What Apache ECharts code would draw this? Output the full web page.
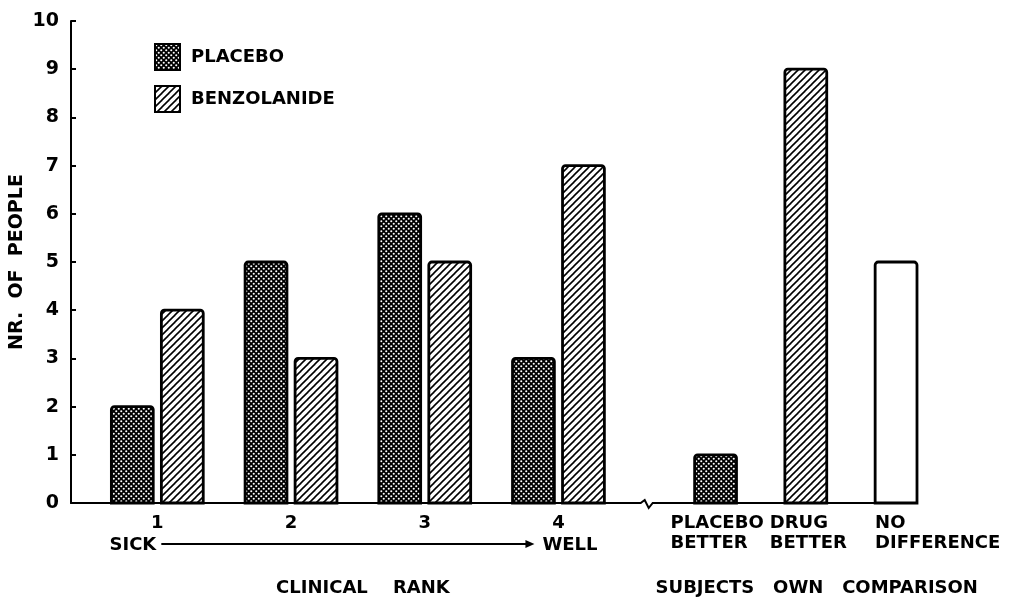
<!DOCTYPE html>
<html>
<head>
<meta charset="utf-8">
<script src="https://cdn.jsdelivr.net/npm/echarts@6/dist/echarts.min.js"></script>
<style>
  html, body { margin: 0; padding: 0; background: #fff; }
  #chart { width: 1012px; height: 600px; }
</style>
</head>
<body>
<div id="chart"></div>
<script>
// ---------------- DATA ----------------
const clinicalRanks = ['1', '2', '3', '4'];
const placeboCounts = [2, 5, 6, 3];
const benzolanideCounts = [4, 3, 5, 7];
const comparisonLabels = [['PLACEBO', 'BETTER'], ['DRUG', 'BETTER'], ['NO', 'DIFFERENCE']];
const comparisonCounts = [1, 9, 5];
const comparisonKinds = ['PLACEBO', 'BENZOLANIDE', 'NO DIFFERENCE'];
const seriesNames = ['PLACEBO', 'BENZOLANIDE'];
const yTickValues = [0, 1, 2, 3, 4, 5, 6, 7, 8, 9, 10];

// ---------------- LAYOUT (x units: one clinical group step = 1) ----------------
const BAR_W = 0.313;          // bar width in x units
const BAR_OFF = 0.187;        // offset of each bar from group centre
const COMP_START = 5.175;     // centre of first comparison bar
const COMP_STEP = 0.675;
const BREAK_X = 4.66;
const X_MIN = 0.3545;
const X_MAX = COMP_START + 2 * COMP_STEP + BAR_W / 2;
const compLabelOffsets = [-45, -36, -21]; // px, left edge of comparison labels from bar centre
const FONT = '"DejaVu Sans", sans-serif';

const rankX = i => i + 1;
const compX = j => COMP_START + j * COMP_STEP;

// ---------------- PATTERNS ----------------
function dotPattern() {
  const c = document.createElement('canvas');
  c.width = 5; c.height = 5;
  const g = c.getContext('2d');
  g.fillStyle = '#000'; g.fillRect(0, 0, 5, 5);
  g.fillStyle = '#fff';
  [[1.25, 1.25], [3.75, 3.75]].forEach(([x, y]) => { g.beginPath(); g.arc(x, y, 1.05, 0, Math.PI * 2); g.fill(); });
  return c;
}
function hatchPattern() {
  const s = 7;
  const c = document.createElement('canvas');
  c.width = s; c.height = s;
  const g = c.getContext('2d');
  g.fillStyle = '#fff'; g.fillRect(0, 0, s, s);
  g.strokeStyle = '#000'; g.lineWidth = 1.6;
  [[0, s, s, 0], [-s / 2, s / 2, s / 2, -s / 2], [s / 2, s * 1.5, s * 1.5, s / 2]].forEach(([a, b, c2, d]) => { g.beginPath(); g.moveTo(a, b); g.lineTo(c2, d); g.stroke(); });
  return c;
}
const fills = {
  'PLACEBO': { type: 'pattern', image: dotPattern(), repeat: 'repeat' },
  'BENZOLANIDE': { type: 'pattern', image: hatchPattern(), repeat: 'repeat' },
  'NO DIFFERENCE': '#fff'
};

// ---------------- SERIES DATA ----------------
const placeboData = placeboCounts.map((v, i) => [rankX(i) - BAR_OFF, v]);
const benzData = benzolanideCounts.map((v, i) => [rankX(i) + BAR_OFF, v]);
const noDiffData = [];
comparisonCounts.forEach((v, j) => {
  const pt = [compX(j), v];
  if (comparisonKinds[j] === 'PLACEBO') placeboData.push(pt);
  else if (comparisonKinds[j] === 'BENZOLANIDE') benzData.push(pt);
  else noDiffData.push(pt);
});

function barRenderer(fill) {
  return function (params, api) {
    const top = api.coord([api.value(0), api.value(1)]);
    const base = api.coord([api.value(0), 0]);
    const w = api.size([BAR_W, 0])[0];
    return {
      type: 'rect',
      shape: { x: top[0] - w / 2, y: top[1], width: w, height: base[1] - top[1], r: [3, 3, 0, 0] },
      style: { fill: fill, stroke: '#000', lineWidth: 2.8 }
    };
  };
}

function barSeries(name, data) {
  return {
    name: name, type: 'custom', data: data, z: 3,
    itemStyle: { color: fills[name], borderColor: '#000', borderWidth: 2 },
    renderItem: barRenderer(fills[name])
  };
}

function txt(text, x, y, align, size) {
  return { type: 'text', style: { text: text, x: x, y: y, align: align || 'center', verticalAlign: 'middle', font: 'bold ' + (size || 18) + 'px ' + FONT, fill: '#000' } };
}

function annotationRenderer(params, api) {
  const children = [];
  const y0 = api.coord([X_MIN, 0])[1];
  const cx = clinicalRanks.map((r, i) => api.coord([rankX(i), 0])[0]);
  clinicalRanks.forEach((r, i) => children.push(txt(r, cx[i], y0 + 20)));
  const ay = y0 + 41;
  children.push(txt('SICK', cx[0] - 1, y0 + 42, 'right'));
  children.push(txt('WELL', cx[3] - 16, y0 + 42, 'left'));
  children.push({ type: 'line', shape: { x1: cx[0] + 4, y1: ay, x2: cx[3] - 28, y2: ay }, style: { stroke: '#000', lineWidth: 2 } });
  children.push({ type: 'polygon', shape: { points: [[cx[3] - 33, ay - 4], [cx[3] - 24, ay], [cx[3] - 33, ay + 4]] }, style: { fill: '#000' } });
  children.push(txt('CLINICAL    RANK', (cx[0] + cx[3]) / 2 + 5, y0 + 85));
  const px = comparisonLabels.map((l, j) => api.coord([compX(j), 0])[0]);
  comparisonLabels.forEach((lines, j) => {
    children.push(txt(lines[0], px[j] + compLabelOffsets[j], y0 + 20, 'left'));
    children.push(txt(lines[1], px[j] + compLabelOffsets[j], y0 + 40, 'left'));
  });
  children.push(txt('SUBJECTS   OWN   COMPARISON', px[0] - 60, y0 + 85, 'left'));
  // axis break mark
  const bx = api.coord([BREAK_X, 0])[0];
  children.push({ type: 'rect', shape: { x: bx - 9, y: y0 - 3, width: 18, height: 6 }, style: { fill: '#fff' } });
  children.push({ type: 'polyline', shape: { points: [[bx - 11, y0], [bx - 6, y0], [bx - 2, y0 - 3], [bx + 2, y0 + 5], [bx + 6, y0], [bx + 11, y0]] }, style: { stroke: '#000', lineWidth: 2, fill: null } });
  return { type: 'group', children: children };
}

const chart = echarts.init(document.getElementById('chart'), null, { renderer: 'canvas' });
chart.setOption({
  backgroundColor: '#fff',
  animation: false,
  grid: { left: 71, right: 1012 - 917, top: 21, bottom: 97, containLabel: false, outerBoundsMode: 'none' },
  legend: {
    data: seriesNames, orient: 'vertical', left: 154, top: 43, padding: 0,
    itemWidth: 25, itemHeight: 26, itemGap: 14, icon: 'rect',
    itemStyle: { borderColor: '#000', borderWidth: 2 },
    textStyle: { fontFamily: FONT, fontWeight: 'bold', fontSize: 18, color: '#000', padding: [0, 0, 0, 6] },
    selectedMode: false
  },
  xAxis: {
    type: 'value', min: X_MIN, max: X_MAX,
    axisLine: { show: true, onZero: false, lineStyle: { color: '#000', width: 2 } },
    axisTick: { show: false }, axisLabel: { show: false }, splitLine: { show: false }
  },
  yAxis: {
    type: 'value', min: yTickValues[0], max: yTickValues[yTickValues.length - 1], interval: 1,
    name: 'NR.  OF  PEOPLE', nameLocation: 'middle', nameGap: 44, nameRotate: 90, nameMoveOverlap: false,
    nameTextStyle: { fontFamily: FONT, fontWeight: 'bold', fontSize: 19, color: '#000' },
    axisLine: { show: true, lineStyle: { color: '#000', width: 2 } },
    axisTick: { show: true, inside: true, length: 5, lineStyle: { color: '#000', width: 2 } },
    axisLabel: { fontFamily: FONT, fontWeight: 'bold', fontSize: 19, color: '#000', margin: 12 },
    splitLine: { show: false }
  },
  series: [
    barSeries('PLACEBO', placeboData),
    barSeries('BENZOLANIDE', benzData),
    barSeries('NO DIFFERENCE', noDiffData),
    { name: 'annotations', type: 'custom', data: [[X_MIN, 0]], z: 4, silent: true, renderItem: annotationRenderer }
  ]
});
</script>
</body>
</html>
